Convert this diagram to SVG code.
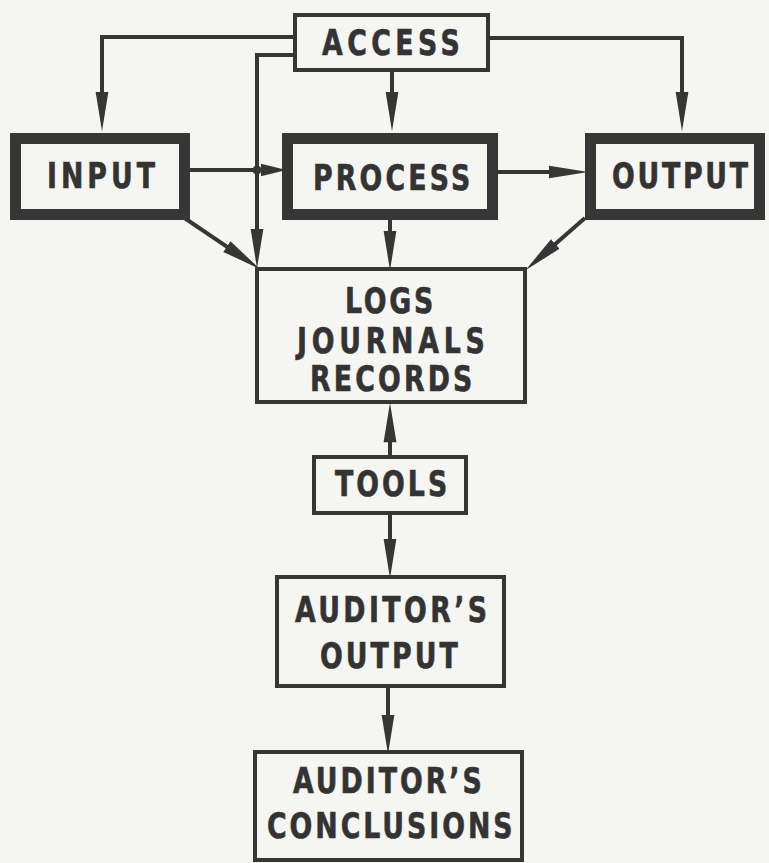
<svg xmlns="http://www.w3.org/2000/svg" width="769" height="863" viewBox="0 0 769 863">
  <style>
    .box { fill: #f5f5f1; stroke: #363636; stroke-width: 4; }
    .heavy { fill: #f5f5f1; stroke: #363636; stroke-width: 11; }
    .wire { fill: none; stroke: #363636; stroke-width: 4; stroke-linejoin: miter; }
    .lbl { font-family: "DejaVu Sans", sans-serif; font-stretch: condensed; font-weight: bold; font-size: 35px; fill: #333333; stroke: #333333; stroke-width: 0.6; }
  </style>
  <defs>
    <marker id="head" markerUnits="userSpaceOnUse" markerWidth="40" markerHeight="14" viewBox="0 -6 34 12" refX="14" refY="0" orient="auto">
      <path d="M0,-5.5 L34,0 L0,5.5 z" fill="#363636"/>
    </marker>
    <marker id="headShort" markerUnits="userSpaceOnUse" markerWidth="26" markerHeight="14" viewBox="0 -6 22 12" refX="8" refY="0" orient="auto">
      <path d="M0,-5.5 L22,0 L0,5.5 z" fill="#363636"/>
    </marker>
  </defs>

  <rect x="0" y="0" width="769" height="863" fill="#f5f5f1"/>

  <!-- connectors -->
  <g id="connectors">
    <path class="wire" d="M295,37 H102 V108" marker-end="url(#head)"/>
    <path class="wire" d="M295,55 H257 V245" marker-end="url(#head)"/>
    <path class="wire" d="M488,38 H682 V108" marker-end="url(#head)"/>
    <path class="wire" d="M392,70 V108" marker-end="url(#head)"/>
    <path class="wire" d="M190,170 H270" marker-end="url(#headShort)"/>
    <circle cx="257" cy="170" r="4.5" fill="#363636"/>
    <path class="wire" d="M498,172 H565" marker-end="url(#head)"/>
    <path class="wire" d="M183,217 L240.4,255.8" marker-end="url(#head)"/>
    <path class="wire" d="M390,220 V247" marker-end="url(#head)"/>
    <path class="wire" d="M585,218 L543,254.8" marker-end="url(#head)"/>
    <path class="wire" d="M390,457 V426" marker-end="url(#head)"/>
    <path class="wire" d="M390,513 V555" marker-end="url(#head)"/>
    <path class="wire" d="M388,686 V731" marker-end="url(#head)"/>
  </g>

  <!-- labels use a horizontally narrowed face (scale 0.85) with open letter spacing -->
  <g id="access">
    <rect class="box" x="295" y="15" width="193" height="55"/>
    <text class="lbl" transform="translate(322,55) scale(0.85,1)" textLength="162">ACCESS</text>
  </g>

  <g id="input">
    <rect class="heavy" x="15.5" y="138.5" width="169" height="76"/>
    <text class="lbl" transform="translate(47,188) scale(0.85,1)" textLength="127">INPUT</text>
  </g>

  <g id="process">
    <rect class="heavy" x="287.5" y="138.5" width="205" height="76"/>
    <text class="lbl" transform="translate(313,190) scale(0.85,1)" textLength="185">PROCESS</text>
  </g>

  <g id="output">
    <rect class="heavy" x="590.5" y="138.5" width="169" height="76"/>
    <text class="lbl" transform="translate(612,188) scale(0.85,1)" textLength="160">OUTPUT</text>
  </g>

  <g id="logs">
    <rect class="box" x="257" y="269" width="268" height="133"/>
    <text class="lbl" transform="translate(345,313) scale(0.85,1)" textLength="104">LOGS</text>
    <text class="lbl" transform="translate(297,353) scale(0.85,1)" textLength="221">JOURNALS</text>
    <text class="lbl" transform="translate(310,391) scale(0.85,1)" textLength="191">RECORDS</text>
  </g>

  <g id="tools">
    <rect class="box" x="314" y="457" width="152" height="56"/>
    <text class="lbl" transform="translate(335,496) scale(0.85,1)" textLength="132">TOOLS</text>
  </g>

  <g id="auditors-output">
    <rect class="box" x="277" y="577" width="227" height="109"/>
    <text class="lbl" transform="translate(295,622) scale(0.85,1)" textLength="226">AUDITOR’S</text>
    <text class="lbl" transform="translate(320,668) scale(0.85,1)" textLength="162">OUTPUT</text>
  </g>

  <g id="auditors-conclusions">
    <rect class="box" x="255" y="752" width="267" height="108"/>
    <text class="lbl" transform="translate(293,793) scale(0.85,1)" textLength="222">AUDITOR’S</text>
    <text class="lbl" transform="translate(267,838) scale(0.85,1)" textLength="289">CONCLUSIONS</text>
  </g>
</svg>
